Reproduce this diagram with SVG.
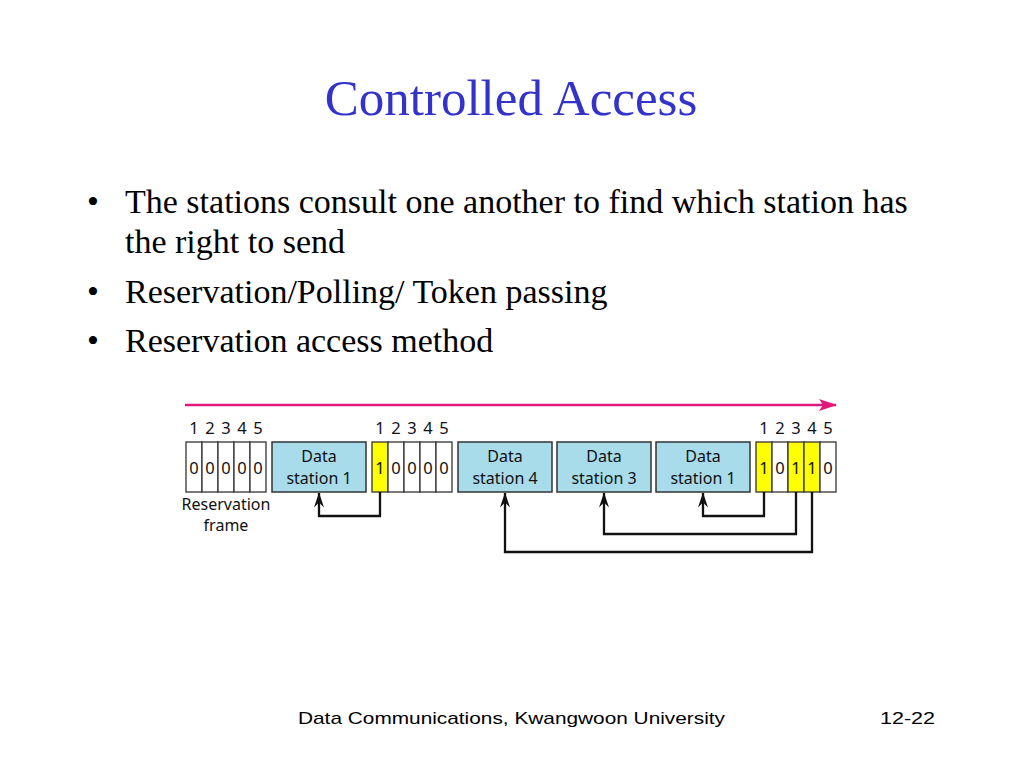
<svg xmlns="http://www.w3.org/2000/svg" width="1024" height="768" viewBox="0 0 1024 768">
<defs>
<style>
.title{font-family:"Liberation Serif","Times New Roman",serif;font-size:51px;fill:#3333CC}
.bul{font-family:"Liberation Serif","Times New Roman",serif;font-size:34px;fill:#000}
.foot{font-family:"Liberation Sans",Arial,sans-serif;font-size:17px;fill:#000}
.lbl{font-family:"Noto Sans","Open Sans",sans-serif;font-size:16px;fill:#111;text-anchor:middle}
.dig{font-family:"Noto Sans","Open Sans",sans-serif;font-size:16.5px;fill:#111;text-anchor:middle}
.cell{fill:#fff;stroke:#333;stroke-width:1.3}
.ycell{fill:#FFFF00;stroke:#333;stroke-width:1.3}
.box{fill:#A8DCEB;stroke:#333;stroke-width:1.5}
.conn{fill:none;stroke:#111;stroke-width:2.3}
</style>
<marker id="ah" viewBox="0 0 15 10" refX="14.5" refY="5" markerWidth="15" markerHeight="10" markerUnits="userSpaceOnUse" orient="auto">
<path d="M15 5 L0 0 L5 5 L0 10 Z" fill="#111"/>
</marker>
<marker id="mh" viewBox="0 0 18 12" refX="17" refY="6" markerWidth="18" markerHeight="12" markerUnits="userSpaceOnUse" orient="auto">
<path d="M0 0 L18 6 L0 12 L4 6 Z" fill="#E0187A"/>
</marker>
</defs>
<rect width="1024" height="768" fill="#fff"/>
<text class="title" x="511" y="115" text-anchor="middle">Controlled Access</text>
<g id="bullets">
<text class="bul" x="87" y="213">•</text>
<text class="bul" x="125" y="213">The stations consult one another to find which station has</text>
<text class="bul" x="125" y="253">the right to send</text>
<text class="bul" x="87" y="303">•</text>
<text class="bul" x="125" y="303">Reservation/Polling/ Token passing</text>
<text class="bul" x="87" y="352">•</text>
<text class="bul" x="125" y="352">Reservation access method</text>
</g>
<line id="time-axis" x1="185" y1="405" x2="836" y2="405" stroke="#E0187A" stroke-width="2.5" marker-end="url(#mh)"/>
<g id="frame1">
<rect class="cell" x="186" y="442" width="16" height="50"/>
<rect class="cell" x="202" y="442" width="16" height="50"/>
<rect class="cell" x="218" y="442" width="16" height="50"/>
<rect class="cell" x="234" y="442" width="16" height="50"/>
<rect class="cell" x="250" y="442" width="16" height="50"/>
<text class="dig" x="194" y="434">1</text><text class="dig" x="210" y="434">2</text><text class="dig" x="226" y="434">3</text><text class="dig" x="242" y="434">4</text><text class="dig" x="258" y="434">5</text>
<text class="dig" x="194" y="474">0</text><text class="dig" x="210" y="474">0</text><text class="dig" x="226" y="474">0</text><text class="dig" x="242" y="474">0</text><text class="dig" x="258" y="474">0</text>
<text class="lbl" x="226" y="510">Reservation</text>
<text class="lbl" x="226" y="531">frame</text>
</g>
<g id="data1a">
<rect class="box" x="272" y="442" width="94" height="50"/>
<text class="lbl" x="319" y="462">Data</text>
<text class="lbl" x="319" y="484">station 1</text>
</g>
<g id="frame2">
<rect class="ycell" x="372" y="442" width="16" height="50"/>
<rect class="cell" x="388" y="442" width="16" height="50"/>
<rect class="cell" x="404" y="442" width="16" height="50"/>
<rect class="cell" x="420" y="442" width="16" height="50"/>
<rect class="cell" x="436" y="442" width="16" height="50"/>
<text class="dig" x="380" y="434">1</text><text class="dig" x="396" y="434">2</text><text class="dig" x="412" y="434">3</text><text class="dig" x="428" y="434">4</text><text class="dig" x="444" y="434">5</text>
<text class="dig" x="380" y="474">1</text><text class="dig" x="396" y="474">0</text><text class="dig" x="412" y="474">0</text><text class="dig" x="428" y="474">0</text><text class="dig" x="444" y="474">0</text>
</g>
<g id="data4">
<rect class="box" x="458" y="442" width="94" height="50"/>
<text class="lbl" x="505" y="462">Data</text>
<text class="lbl" x="505" y="484">station 4</text>
</g>
<g id="data3">
<rect class="box" x="557" y="442" width="94" height="50"/>
<text class="lbl" x="604" y="462">Data</text>
<text class="lbl" x="604" y="484">station 3</text>
</g>
<g id="data1b">
<rect class="box" x="656" y="442" width="94" height="50"/>
<text class="lbl" x="703" y="462">Data</text>
<text class="lbl" x="703" y="484">station 1</text>
</g>
<g id="frame3">
<rect class="ycell" x="756" y="442" width="16" height="50"/>
<rect class="cell" x="772" y="442" width="16" height="50"/>
<rect class="ycell" x="788" y="442" width="16" height="50"/>
<rect class="ycell" x="804" y="442" width="16" height="50"/>
<rect class="cell" x="820" y="442" width="16" height="50"/>
<text class="dig" x="764" y="434">1</text><text class="dig" x="780" y="434">2</text><text class="dig" x="796" y="434">3</text><text class="dig" x="812" y="434">4</text><text class="dig" x="828" y="434">5</text>
<text class="dig" x="764" y="474">1</text><text class="dig" x="780" y="474">0</text><text class="dig" x="796" y="474">1</text><text class="dig" x="812" y="474">1</text><text class="dig" x="828" y="474">0</text>
</g>
<g id="connectors">
<polyline class="conn" points="380,492 380,516 319,516 319,493" marker-end="url(#ah)"/>
<polyline class="conn" points="764,492 764,516 703,516 703,493" marker-end="url(#ah)"/>
<polyline class="conn" points="796,492 796,534 604,534 604,493" marker-end="url(#ah)"/>
<polyline class="conn" points="812,492 812,552 505,552 505,493" marker-end="url(#ah)"/>
</g>
<g id="footer">
<text class="foot" x="298" y="724" textLength="427" lengthAdjust="spacingAndGlyphs">Data Communications, Kwangwoon University</text>
<text class="foot" x="880" y="724" textLength="55" lengthAdjust="spacingAndGlyphs">12-22</text>
</g>
</svg>
